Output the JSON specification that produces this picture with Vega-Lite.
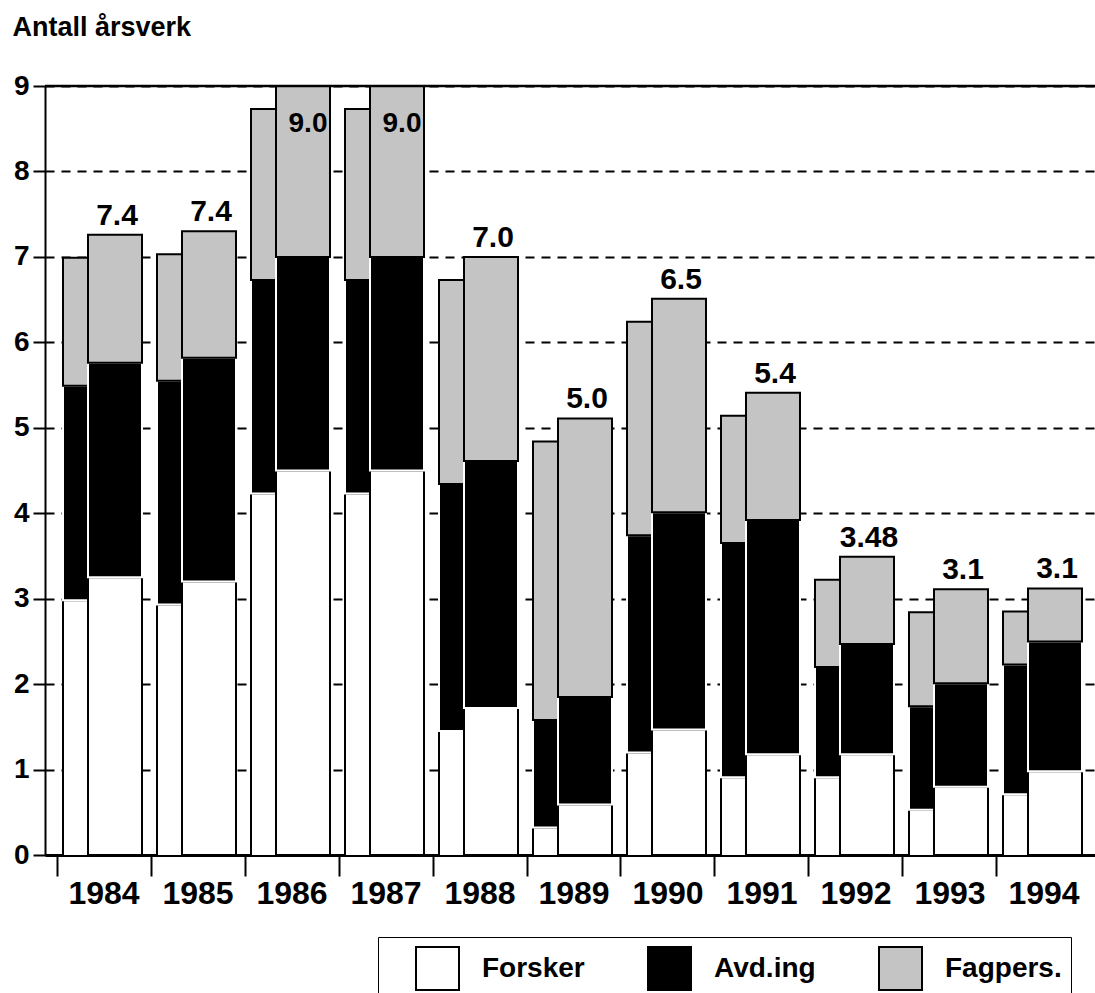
{
  "$schema": "https://vega.github.io/schema/vega-lite/v6.json",
  "width": 1058,
  "height": 769,
  "autosize": {"type": "none"},
  "padding": {"left": 45, "top": 86, "right": 0, "bottom": 138},
  "background": "white",
  "config": {
    "font": "Liberation Sans",
    "view": {"stroke": null}
  },
  "datasets": {
    "seg": [
      {"year": "1984", "group": "Forsker", "value": 3.25},
      {"year": "1984", "group": "Avd.ing", "value": 2.51},
      {"year": "1984", "group": "Fagpers.", "value": 1.5},
      {"year": "1985", "group": "Forsker", "value": 3.2},
      {"year": "1985", "group": "Avd.ing", "value": 2.62},
      {"year": "1985", "group": "Fagpers.", "value": 1.48},
      {"year": "1986", "group": "Forsker", "value": 4.5},
      {"year": "1986", "group": "Avd.ing", "value": 2.5},
      {"year": "1986", "group": "Fagpers.", "value": 2.0},
      {"year": "1987", "group": "Forsker", "value": 4.5},
      {"year": "1987", "group": "Avd.ing", "value": 2.5},
      {"year": "1987", "group": "Fagpers.", "value": 2.0},
      {"year": "1988", "group": "Forsker", "value": 1.72},
      {"year": "1988", "group": "Avd.ing", "value": 2.89},
      {"year": "1988", "group": "Fagpers.", "value": 2.39},
      {"year": "1989", "group": "Forsker", "value": 0.59},
      {"year": "1989", "group": "Avd.ing", "value": 1.26},
      {"year": "1989", "group": "Fagpers.", "value": 3.26},
      {"year": "1990", "group": "Forsker", "value": 1.47},
      {"year": "1990", "group": "Avd.ing", "value": 2.54},
      {"year": "1990", "group": "Fagpers.", "value": 2.5},
      {"year": "1991", "group": "Forsker", "value": 1.18},
      {"year": "1991", "group": "Avd.ing", "value": 2.74},
      {"year": "1991", "group": "Fagpers.", "value": 1.49},
      {"year": "1992", "group": "Forsker", "value": 1.18},
      {"year": "1992", "group": "Avd.ing", "value": 1.29},
      {"year": "1992", "group": "Fagpers.", "value": 1.02},
      {"year": "1993", "group": "Forsker", "value": 0.8},
      {"year": "1993", "group": "Avd.ing", "value": 1.21},
      {"year": "1993", "group": "Fagpers.", "value": 1.1},
      {"year": "1994", "group": "Forsker", "value": 0.98},
      {"year": "1994", "group": "Avd.ing", "value": 1.52},
      {"year": "1994", "group": "Fagpers.", "value": 0.62}
    ],
    "tot": [
      {"year": "1984", "label": "7.4"},
      {"year": "1985", "label": "7.4"},
      {"year": "1986", "label": "9.0"},
      {"year": "1987", "label": "9.0"},
      {"year": "1988", "label": "7.0"},
      {"year": "1989", "label": "5.0"},
      {"year": "1990", "label": "6.5"},
      {"year": "1991", "label": "5.4"},
      {"year": "1992", "label": "3.48"},
      {"year": "1993", "label": "3.1"},
      {"year": "1994", "label": "3.1"}
    ]
  },
  "data": {"name": "seg"},
  "layer": [
    {
      "transform": [{"window": [{"op": "row_number", "as": "rank"}], "groupby": ["year"]}],
      "mark": {"type": "bar", "width": 25, "xOffset": -28.5, "yOffset": 23, "clip": true, "strokeWidth": 2},
      "encoding": {
        "x": {
          "field": "year", "type": "ordinal",
          "scale": {"paddingInner": 0, "paddingOuter": 0.1277},
          "axis": {
            "title": null, "bandPosition": 0, "tickSize": 21, "tickWidth": 2,
            "tickColor": "black", "domainWidth": 3, "domainColor": "black", "labelFontSize": 32,
            "labelFontWeight": "bold", "labelColor": "black", "labelPadding": 2, "labelAngle": 0, "grid": false
          }
        },
        "y": {
          "field": "value", "type": "quantitative",
          "scale": {"domain": [0, 9], "nice": false},
          "axis": {
            "title": "Antall årsverk", "titleAngle": 0, "titleX": -33, "titleY": -51, "titleAlign": "left",
            "titleBaseline": "alphabetic", "titleFontSize": 27, "titleFontWeight": "bold", "titleColor": "black",
            "values": [0, 1, 2, 3, 4, 5, 6, 7, 8, 9], "format": "d", "tickSize": 12, "tickWidth": 2, "tickColor": "black",
            "domainWidth": 2, "domainColor": "black", "labelFontSize": 28, "labelFontWeight": "bold",
            "labelColor": "black", "labelPadding": 4, "grid": true, "gridDash": [9, 7], "gridColor": "black",
            "gridWidth": 2, "gridOpacity": 1
          }
        },
        "order": {"field": "rank", "type": "quantitative"},
        "fill": {
          "field": "group", "type": "nominal",
          "scale": {"domain": ["Forsker", "Avd.ing", "Fagpers."], "range": ["#ffffff", "#000000", "#c4c4c4"]},
          "legend": {
            "title": null, "orient": "none", "legendX": 333, "legendY": 851, "direction": "horizontal",
            "padding": 9, "symbolOffset": 28, "symbolType": "square", "symbolSize": 1849,
            "symbolStrokeColor": "black", "symbolStrokeWidth": 2, "labelOffset": 22, "labelFontSize": 28,
            "labelFontWeight": "bold", "labelColor": "black", "columnPadding": 34, "strokeColor": "black",
            "symbolOpacity": 1
          }
        },
        "stroke": {"condition": {"test": "datum.group === 'Avd.ing'", "value": "#ffffff"}, "value": "#000000"}
      }
    },
    {
      "transform": [{"window": [{"op": "row_number", "as": "rank"}], "groupby": ["year"]}],
      "mark": {"type": "bar", "width": 54, "xOffset": 11, "strokeWidth": 2},
      "encoding": {
        "x": {"field": "year", "type": "ordinal"},
        "y": {"field": "value", "type": "quantitative"},
        "order": {"field": "rank", "type": "quantitative"},
        "fill": {"field": "group", "type": "nominal"},
        "stroke": {"condition": {"test": "datum.group === 'Avd.ing'", "value": "#ffffff"}, "value": "#000000"}
      }
    },
    {
      "transform": [
        {"aggregate": [{"op": "sum", "field": "value", "as": "total"}], "groupby": ["year"]},
        {"lookup": "year", "from": {"data": {"name": "tot"}, "key": "year", "fields": ["label"]}},
        {"filter": "datum.total < 8.9"}
      ],
      "mark": {"type": "text", "baseline": "alphabetic", "dy": -10, "xOffset": 13, "fontSize": 30, "fontWeight": "bold", "color": "black"},
      "encoding": {
        "x": {"field": "year", "type": "ordinal"},
        "y": {"field": "total", "type": "quantitative"},
        "text": {"field": "label"}
      }
    },
    {
      "transform": [
        {"aggregate": [{"op": "sum", "field": "value", "as": "total"}], "groupby": ["year"]},
        {"lookup": "year", "from": {"data": {"name": "tot"}, "key": "year", "fields": ["label"]}},
        {"filter": "datum.total >= 8.9"}
      ],
      "mark": {"type": "text", "baseline": "alphabetic", "dy": 46, "xOffset": 16, "fontSize": 28, "fontWeight": "bold", "color": "black"},
      "encoding": {
        "x": {"field": "year", "type": "ordinal"},
        "y": {"field": "total", "type": "quantitative"},
        "text": {"field": "label"}
      }
    },
    {
      "data": {"values": [{}]},
      "mark": {"type": "rule", "strokeWidth": 2.5, "color": "black"},
      "encoding": {"y": {"datum": 9}}
    }
  ]
}
